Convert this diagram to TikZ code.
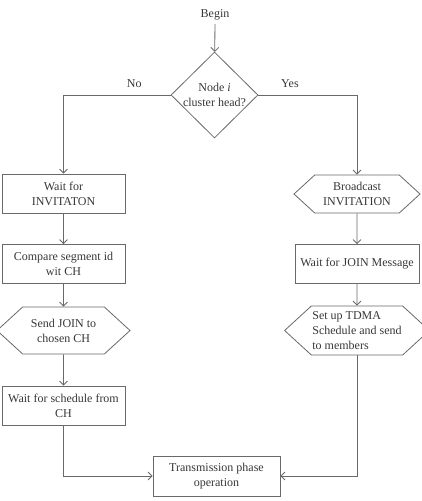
\documentclass[tikz,border=0pt]{standalone}
\usepackage{fontspec}
\setmainfont{Liberation Serif}
\usetikzlibrary{shapes.geometric,shapes.symbols,arrows.meta}
\definecolor{linegray}{RGB}{105,105,105}
\definecolor{textgray}{RGB}{55,55,55}
\begin{document}
\begin{tikzpicture}[x=1pt,y=-1pt,line width=0.8pt,
        every node/.style={font=\fontsize{12}{15}\selectfont,text=textgray},
        box/.style={draw=linegray,rectangle,align=center,minimum width=123pt,minimum height=39pt,inner sep=2pt},
        hexa/.style={draw=linegray,signal,signal to=west and east,signal pointer angle=85,align=center,minimum width=126pt,minimum height=40pt,inner sep=1pt},
        decide/.style={draw=linegray,diamond,align=center,inner sep=-3pt,minimum width=87pt,minimum height=86pt},
        flow/.style={draw=linegray,-{Straight Barb[length=4pt,width=8pt]}}]
        \useasboundingbox (0,0) rectangle (422,501);
        % start and decision
        \node (begin) at (215,15) {Begin};
        \node[decide] (head) at (214.5,95) {Node \textit{i}\\cluster head?};
        % left branch
        \node[box] (waitinv) at (63.5,193.5) {Wait for\\INVITATON};
        \node[box] (compare) at (63.5,264) {Compare segment id\\wit CH};
        \node[hexa,minimum height=47pt,minimum width=133pt] (sendjoin) at (63.5,330.5) {Send JOIN to\\chosen CH};
        \node[box] (waitsched) at (63.5,405.5) {Wait for schedule from\\CH};
        % right branch
        \node[hexa,minimum height=38pt] (bcast) at (357,194) {Broadcast\\INVITATION};
        \node[box,minimum width=124pt] (waitjoin) at (357,264) {Wait for JOIN Message};
        \node[hexa,minimum height=49pt,align=left] (tdma) at (357,330.5) {Set up TDMA\\Schedule and send\\to members};
        % end
        \node[box,minimum width=127pt,minimum height=40pt] (trans) at (216.5,476) {Transmission phase\\operation};
        % draw connectors
        \draw[flow] (begin) -- (head);
        \draw[flow] (head.west) -- node[pos=0.34,above=4pt] {No} (waitinv.north |- head.west) -- (waitinv.north);
        \draw[flow] (waitinv) -- (compare);
        \draw[flow] (compare) -- (sendjoin);
        \draw[flow] (sendjoin) -- (waitsched);
        \draw[flow] (waitsched.south) |- (trans.west);
        \draw[flow] (head.east) -- node[pos=0.32,above=4pt] {Yes} (bcast.north |- head.east) -- (bcast.north);
        \draw[flow] (bcast) -- (waitjoin);
        \draw[flow] (waitjoin) -- (tdma);
        \draw[flow] (tdma.south) |- (trans.east);
    \end{tikzpicture}
\end{document}
